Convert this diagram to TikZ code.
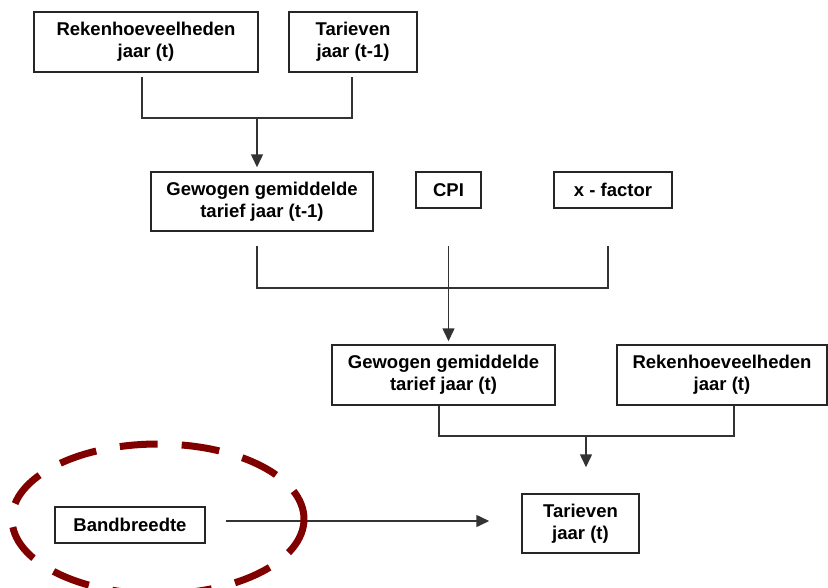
\documentclass[tikz,border=0pt]{standalone}
\usepackage{fontspec}
\setmainfont{Liberation Sans}
\usetikzlibrary{arrows.meta}
\definecolor{bandrood}{RGB}{128,0,0}
\tikzset{every picture/.style={/utils/exec={\bfseries\fontsize{18.5}{22}\selectfont}},
  every node/.style={align=center},
  blok/.style={ % Sets the properties for each box
    draw=black!85, line width=1.5pt, fill=white, inner sep=0pt},
  lijn/.style={ % Sets the properties for each connector
    draw=black!80, line width=1.5pt},
  pijl/.style={lijn, -{Triangle[width=12pt,length=13pt]}}}

\begin{document}
\begin{tikzpicture}[x=1pt,y=-1pt]
  \useasboundingbox (0,0) rectangle (828,587);

  \node [blok, minimum width=224, minimum height=60] (rekt) at (146,42) {Rekenhoeveelheden\\jaar (t)};
  \node [blok, minimum width=128, minimum height=60] (tarvorig) at (353,42) {Tarieven\\jaar (t-1)};
  \node [blok, minimum width=222, minimum height=59] (gemvorig) at (262,201.5) {Gewogen gemiddelde\\tarief jaar (t-1)};
  \node [blok, minimum width=65, minimum height=36] (cpi) at (448.5,190) {CPI};
  \node [blok, minimum width=118, minimum height=36] (xfactor) at (613,190) {x - factor};
  \node [blok, minimum width=223, minimum height=60] (gemt) at (443.5,375) {Gewogen gemiddelde\\tarief jaar (t)};
  \node [blok, minimum width=210, minimum height=60] (rektwee) at (722,375) {Rekenhoeveelheden\\jaar (t)};
  \node [blok, minimum width=117, minimum height=59] (tart) at (580.5,523.5) {Tarieven\\jaar (t)};
  \node [blok, minimum width=150, minimum height=36] (band) at (130,525) {Bandbreedte};

  \coordinate (knoop1) at (257,118);
  \coordinate (knoop2) at (448,288);
  \coordinate (knoop3) at (586,436);

  \draw [lijn] ([xshift=-4pt,yshift=-4pt]rekt.south) |- (knoop1) -| ([xshift=-1pt,yshift=-4pt]tarvorig.south);
  \draw [pijl, shorten >=4pt] (knoop1) -- (knoop1 |- gemvorig.north);

  \draw [lijn] ([xshift=-5pt,yshift=-14pt]gemvorig.south) |- (knoop2) -| ([xshift=-5pt,yshift=-37pt]xfactor.south);
  \draw [pijl, shorten >=3pt] ([yshift=-37pt]cpi.south) -- (cpi.south |- gemt.north);

  \draw [lijn] ([xshift=-4.5pt]gemt.south) |- (knoop3) -| ([xshift=12pt]rektwee.south);
  \draw [pijl, shorten >=26pt] (knoop3) -- (knoop3 |- tart.north);

  \draw [pijl, shorten >=32pt] ([xshift=20pt,yshift=4pt]band.east) -- ([yshift=2.5pt]tart.west);

  % dashed ellipse round the band box
  \draw [bandrood, line width=7pt, dash pattern=on 38pt off 24pt] (158,519) ellipse (146 and 75);
\end{tikzpicture}
\end{document}
